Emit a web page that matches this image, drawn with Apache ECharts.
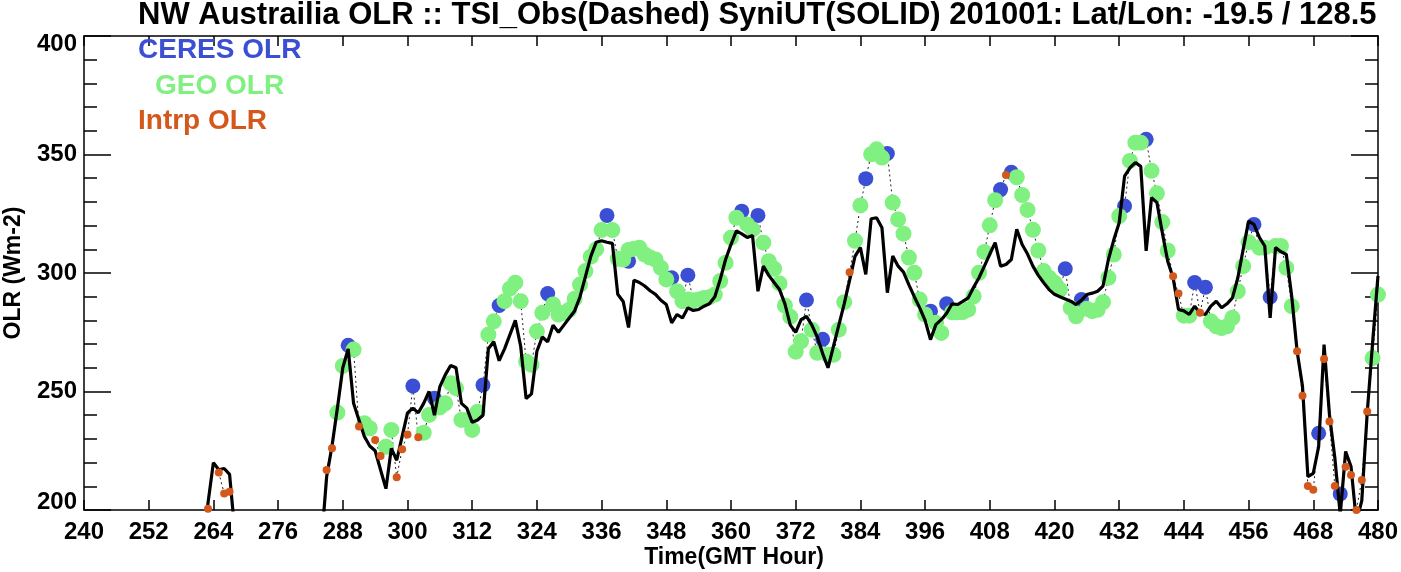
<!DOCTYPE html>
<html>
<head>
<meta charset="utf-8">
<script src="https://cdn.jsdelivr.net/npm/echarts@6/dist/echarts.min.js"></script>
<style>
  html, body { margin: 0; padding: 0; background: #fff; }
  #chart { width: 1401px; height: 572px; }
</style>
</head>
<body>
<div id="chart"></div>
<script>
// SyniUT (solid line), hourly values; two runs with a gap between them
const syniStartA = 262;
const syniA = [180, 203, 220, 217, 217.5, 215, 190];
const syniStartB = 284;
const syniB = [
  185, 214, 227, 243, 260, 268, 245, 238, 231, 227,          // 284
  225, 217, 209, 226, 221, 231, 241, 243, 241, 245,          // 294
  250, 240, 252, 257, 261, 260, 245, 243, 237, 238,          // 304
  240, 268, 271, 263, 268, 274, 280, 269, 247, 249,          // 314
  267, 273, 271, 278, 275, 278, 281, 284, 290, 298.5,        // 324
  307, 313, 313.6, 313, 312.5, 291, 288, 277, 297, 296,      // 334
  294.5, 292.5, 291, 288.5, 286.7, 279, 282.5, 281, 285.3, 284.2, // 344
  284.6, 286, 287, 290, 297.3, 305.7, 312, 317.8, 316.5, 315,     // 354
  315.8, 292.3, 302.9, 299, 296, 293, 287, 278, 275, 280.3,       // 364
  281.7, 278, 273, 266, 260, 269, 278, 287, 297, 307,             // 374
  310.7, 299.4, 322.9, 323.3, 319.1, 291.7, 307.2, 302.9, 300.4, 295, // 384
  290, 285.3, 280, 271.9, 278.2, 280.3, 283, 287, 286.7, 288,     // 394
  289.5, 294, 298, 302.9, 308, 312.8, 302.9, 303.6, 305.7, 318.4, // 404
  312, 308, 302.9, 299, 295.9, 293, 291, 290, 289, 288.1,         // 414
  286.7, 288.5, 290.9, 291.5, 292.3, 294.5, 305.7, 314, 321.2, 340.9, // 424
  344.4, 346.6, 345, 309.3, 331.8, 329.7, 317, 305, 298, 284.6,   // 434
  284, 282.5, 286, 283, 282.5, 286, 288.1, 285.3, 287, 289.5,     // 444
  297.9, 310, 321.9, 320.5, 315, 311.4, 281.1, 310.7, 309, 307.8, // 454
  290.2, 267, 252.2, 214.1, 215.5, 226.8, 269.8, 240.2, 222, 198, // 464
  224.7, 218.3, 195, 204, 240.9, 270.5, 298.8                     // 474
];

// observations [hour, OLR]
const ceresObs = [
  [289, 269.5], [301, 252.3], [305, 247.1], [314, 252.7], [317, 286.3], [326, 291.3],
  [337, 324.3], [341, 305.0], [349, 298.0], [352, 299.1], [362, 326.1], [365, 324.3],
  [374, 288.6], [377, 272.0], [385, 339.8], [389, 350.4], [397, 283.9], [400, 287.0],
  [410, 335.2], [412, 342.5], [422, 301.8], [425, 288.8], [433, 328.3], [437, 356.4],
  [446, 296.0], [448, 294.0], [457, 320.5], [460, 289.9], [469, 232.4], [473, 206.8]
];
const geoObs = [
  [287, 241.1], [288, 260.8], [290, 267.7], [292, 236.6], [293, 234.5], [296, 226.7],
  [297, 233.8], [303, 232.6], [304, 240.1], [306, 243.3], [307, 245.0], [308, 253.5],
  [309, 251.4], [310, 238.0], [311, 238.0], [312, 233.8], [313, 241.5],
  [315, 274.0], [316, 279.6], [318, 288.1], [319, 293.4], [320, 295.9], [321, 288.1],
  [322, 262.7], [323, 261.3], [324, 275.4], [325, 283.2], [327, 286.7], [328, 282.5],
  [329, 283.2], [330, 284.5], [331, 289.1], [332, 295.1], [333, 300.8], [334, 306.9],
  [335, 310.0], [336, 318.1], [338, 318.1], [339, 306.0], [340, 305.7], [341, 309.7],
  [342, 310.2], [343, 310.7], [344, 307.8], [345, 306.5], [346, 305.7], [347, 302.2],
  [348, 297.3], [350, 292.3], [351, 288.1], [352, 288.8], [353, 288.5], [354, 288.8],
  [355, 289.5], [356, 289.8], [357, 290.9], [358, 296.6], [359, 304.3], [360, 314.9],
  [361, 323.3], [363, 320.5], [364, 318.4], [366, 312.8], [367, 305.0], [368, 301.8],
  [369, 295.6], [370, 286.3], [371, 281.5], [372, 266.8], [373, 271.2], [375, 276.1],
  [376, 266.3], [378, 265.5], [379, 265.5], [380, 276.1], [381, 287.7], [383, 313.6],
  [384, 328.5], [386, 350.1], [387, 352.2], [388, 348.7], [390, 329.7], [391, 322.6],
  [392, 316.6], [393, 306.5], [394, 300.1], [395, 288.8], [396, 282.5], [398, 279.0],
  [399, 274.7], [401, 283.4], [402, 283.4], [403, 283.5], [404, 284.6], [405, 290.2],
  [406, 300.1], [407, 308.9], [408, 320.1], [409, 330.7], [413, 340.4], [414, 332.9],
  [415, 326.6], [416, 318.2], [417, 309.5], [418, 300.8], [419, 298.0], [420, 295.9],
  [421, 293.0], [423, 285.3], [424, 281.7], [426, 284.9], [427, 283.9], [428, 284.5],
  [429, 287.7], [430, 298.0], [431, 307.8], [432, 324.0], [434, 347.3], [435, 355.0],
  [436, 355.0], [438, 343.1], [439, 333.6], [440, 321.5], [441, 309.5], [444, 282.0],
  [445, 282.0], [449, 279.6], [450, 277.5], [451, 276.8], [452, 277.5], [453, 281.1],
  [454, 292.3], [455, 302.9], [456, 313.0], [458, 310.7], [459, 310.7], [461, 311.4],
  [462, 311.4], [463, 302.2], [464, 286.0], [479, 264.1], [480, 290.9]
];
const intrpObs = [
  [263, 200.5], [265, 215.8], [266, 207.0], [267, 207.7], [285, 216.9], [286, 226.1],
  [291, 235.2], [294, 229.5], [295, 222.8], [298, 213.8], [299, 225.6], [300, 231.9],
  [302, 230.7], [382, 300.3], [411, 341.4], [442, 298.6], [443, 291.3], [447, 283.2],
  [465, 267.0], [466, 248.2], [467, 210.1], [468, 208.5], [470, 263.7], [471, 237.3],
  [472, 210.1], [474, 218.3], [475, 214.8], [476, 200.0], [477, 212.7], [478, 241.6]
];

const xTicks = [240, 480, 12];   // min, max, step
const yTicks = [200, 400, 50];

const FONT = "'Liberation Sans', Arial, Helvetica, sans-serif";
const BLUE = "#3a4fd4", GREEN = "#80f080", ORANGE = "#d4581c";

// solid line with a break between runs
const syniLine = [];
syniA.forEach((v, i) => syniLine.push([syniStartA + i, v]));
syniLine.push([syniStartB - 0.5, '-']);
syniB.forEach((v, i) => syniLine.push([syniStartB + i, v]));

// TSI_Obs dashed line: one value per hour, CERES > GEO > Intrp
const obsByHour = new Map();
intrpObs.forEach(([h, v]) => obsByHour.set(h, v));
geoObs.forEach(([h, v]) => obsByHour.set(h, v));
ceresObs.forEach(([h, v]) => obsByHour.set(h, v));
const obsHours = [...obsByHour.keys()].sort((a, b) => a - b);
const obsLine = [];
obsHours.forEach((h, i) => {
    if (i > 0 && h - obsHours[i - 1] > 1) obsLine.push([h - 0.5, '-']);
    obsLine.push([h, obsByHour.get(h)]);
});

const axisLineStyle = { color: "#000", width: 1.5 };
function xAxisDef(pos, labels) {
    return {
        type: "value", position: pos, min: xTicks[0], max: xTicks[1], interval: xTicks[2],
        axisLine: { show: true, onZero: false, lineStyle: axisLineStyle },
        axisTick: { show: true, inside: true, length: 10, lineStyle: axisLineStyle },
        axisLabel: { show: labels, color: "#000", fontSize: 24, fontWeight: "bold", fontFamily: FONT, margin: 10 },
        splitLine: { show: false }
    };
}
function yAxisDef(pos, labels) {
    return {
        type: "value", position: pos, min: yTicks[0], max: yTicks[1], interval: yTicks[2],
        axisLine: { show: true, onZero: false, lineStyle: axisLineStyle },
        axisTick: { show: true, inside: true, length: 27, lineStyle: axisLineStyle },
        minorTick: { show: true, splitNumber: 5, length: 13, lineStyle: { color: "#000", width: 1.5 } },
        axisLabel: {
            show: labels, color: "#000", fontSize: 24, fontWeight: "bold", fontFamily: FONT, margin: 7,
            formatter: v => v === yTicks[1] ? "{hi|" + v + "}" : v === yTicks[0] ? "{lo|" + v + "}" : String(v),
            rich: {
                hi: { fontSize: 24, fontWeight: "bold", fontFamily: FONT, color: "#000", padding: [16, 0, 0, 0] },
                lo: { fontSize: 24, fontWeight: "bold", fontFamily: FONT, color: "#000", padding: [0, 0, 16, 0] }
            }
        },
        splitLine: { show: false }, minorSplitLine: { show: false }
    };
}

const chart = echarts.init(document.getElementById("chart"), null, { renderer: "canvas" });
chart.setOption({
    animation: false,
    backgroundColor: "#fff",
    grid: { left: 84, right: 17, top: 36, bottom: 62 },
    xAxis: [xAxisDef("bottom", true), xAxisDef("top", false)],
    yAxis: [yAxisDef("left", true), yAxisDef("right", false)],
    series: [
        { name: "TSI_Obs", type: "line", data: obsLine, showSymbol: false, silent: true, z: 1,
          lineStyle: { color: "#222", width: 1, type: [2, 3] } },
        { name: "CERES OLR", type: "scatter", data: ceresObs, symbol: "circle", symbolSize: 15, z: 2,
          itemStyle: { color: BLUE, opacity: 1 } },
        { name: "GEO OLR", type: "scatter", data: geoObs, symbol: "circle", symbolSize: 16, z: 3,
          itemStyle: { color: GREEN, opacity: 1 } },
        { name: "SyniUT", type: "line", data: syniLine, showSymbol: false, silent: true, z: 4,
          lineStyle: { color: "#000", width: 3.2 } },
        { name: "Intrp OLR", type: "scatter", data: intrpObs, symbol: "circle", symbolSize: 8, z: 5,
          itemStyle: { color: ORANGE, opacity: 1 } }
    ],
    graphic: [
        { type: "text", x: 138, y: 15, style: { text: "NW Austrailia OLR :: TSI_Obs(Dashed) SyniUT(SOLID) 201001: Lat/Lon: -19.5 / 128.5",
          font: "bold 31px " + FONT, fill: "#000", align: "left", verticalAlign: "middle" } },
        { type: "text", x: 138, y: 50, z: 10, style: { text: "CERES OLR", font: "bold 28px " + FONT, fill: BLUE, align: "left", verticalAlign: "middle" } },
        { type: "text", x: 155, y: 86, z: 10, style: { text: "GEO OLR", font: "bold 28px " + FONT, fill: GREEN, align: "left", verticalAlign: "middle" } },
        { type: "text", x: 138, y: 121, z: 10, style: { text: "Intrp OLR", font: "bold 28px " + FONT, fill: ORANGE, align: "left", verticalAlign: "middle" } },
        { type: "text", x: 734, y: 558, style: { text: "Time(GMT Hour)", font: "bold 23px " + FONT, fill: "#000", align: "center", verticalAlign: "middle" } },
        { type: "text", x: 14, y: 273, rotation: Math.PI / 2, style: { text: "OLR (Wm-2)", font: "bold 23px " + FONT, fill: "#000", align: "center", verticalAlign: "middle" } }
    ]
});
window.addEventListener("resize", () => chart.resize());
</script>
</body>
</html>
